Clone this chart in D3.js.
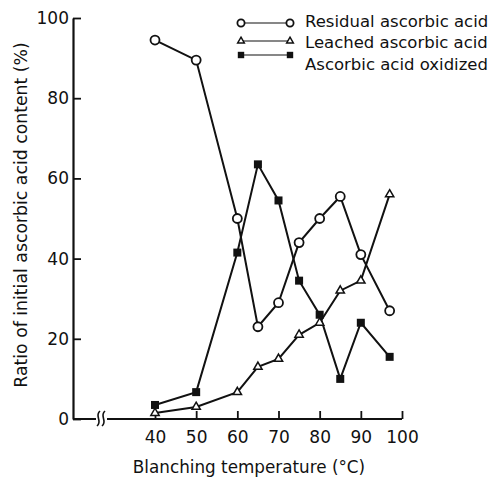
<!DOCTYPE html>
<html>
<head>
<meta charset="utf-8">
<script src="https://d3js.org/d3.v7.min.js"></script>
<style>
  body { margin: 0; background: #fff; }
  text { font-family: "DejaVu Sans", sans-serif; fill: #111; }
</style>
</head>
<body>
<div id="chart-container"></div>
<script>
const temperatures = [40, 50, 60, 65, 70, 75, 80, 85, 90, 97];
const residual = [94.5, 89.5, 50, 23, 29, 44, 50, 55.5, 41, 27];
const leached = [1.5, 3, 6.7, 13, 15, 21, 24, 32, 34.5, 56];
const oxidized = [3.5, 6.7, 41.5, 63.5, 54.5, 34.5, 26, 10, 24, 15.5];
const xTicks = [40, 50, 60, 70, 80, 90, 100];
const yTicks = [0, 20, 40, 60, 80, 100];
const seriesNames = ["Residual ascorbic acid", "Leached ascorbic acid", "Ascorbic acid oxidized"];

function makeChart() {
    const width = 492, height = 478;
    const axisLeft = 73, axisBottom = 419;

    const svg = d3.select("#chart-container")
        .append("svg")
        .attr("width", width)
        .attr("height", height);

    svg.append("rect").attr("width", width).attr("height", height).attr("fill", "#fff");

    const x = d3.scaleLinear().domain([40, 100]).range([155, 402]);
    const y = d3.scaleLinear().domain([0, 100]).range([axisBottom, 18]);

    // y axis
    const yAxis = svg.append("g")
        .attr("transform", "translate(" + axisLeft + ",0)")
        .call(d3.axisLeft(y).tickValues(yTicks).tickSizeInner(-8).tickSizeOuter(0).tickPadding(6));
    yAxis.select(".domain").attr("stroke", "#111").attr("stroke-width", 2.2);
    yAxis.selectAll(".tick line").attr("stroke", "#111").attr("stroke-width", 1.8);
    yAxis.selectAll(".tick text").style("font-size", "17px").attr("dx", "2px");

    // x axis (drawn from 40 to 100, with a broken stub back to the origin)
    const xAxis = svg.append("g")
        .attr("transform", "translate(0," + axisBottom + ")")
        .call(d3.axisBottom(x).tickValues(xTicks).tickSizeInner(-8).tickSizeOuter(0).tickPadding(12));
    xAxis.select(".domain").remove();
    xAxis.selectAll(".tick line").attr("stroke", "#111").attr("stroke-width", 1.8);
    xAxis.selectAll(".tick text").style("font-size", "17px");

    svg.append("line")
        .attr("x1", axisLeft).attr("x2", 96)
        .attr("y1", axisBottom).attr("y2", axisBottom)
        .attr("stroke", "#111").attr("stroke-width", 2);
    svg.append("line")
        .attr("x1", 107).attr("x2", x(100))
        .attr("y1", axisBottom).attr("y2", axisBottom)
        .attr("stroke", "#111").attr("stroke-width", 2);
    // break marks
    [97, 102].forEach(bx => {
        svg.append("path")
            .attr("d", `M${bx + 3},${axisBottom - 8} C${bx - 3},${axisBottom - 3} ${bx + 6},${axisBottom + 2} ${bx},${axisBottom + 7}`)
            .attr("fill", "none").attr("stroke", "#111").attr("stroke-width", 1.6);
    });

    // axis labels
    svg.append("text")
        .attr("x", 249).attr("y", 473)
        .style("text-anchor", "middle")
        .style("font-size", "16.8px")
        .text("Blanching temperature (°C)");

    svg.append("text")
        .attr("transform", "rotate(-90)")
        .attr("x", -215).attr("y", 27)
        .style("text-anchor", "middle")
        .style("font-size", "17.3px")
        .text("Ratio of initial ascorbic acid content (%)");

    const line = d3.line()
        .x((d, i) => x(temperatures[i]))
        .y(d => y(d));

    const series = [residual, leached, oxidized];
    series.forEach(s => {
        svg.append("path")
            .datum(s)
            .attr("d", line)
            .attr("fill", "none")
            .attr("stroke", "#111")
            .attr("stroke-width", 2);
    });

    function drawMarker(g, kind, cx, cy, scale) {
        if (kind === 0) {
            g.append("circle").attr("cx", cx).attr("cy", cy).attr("r", 4.5 * scale)
                .attr("fill", "#fff").attr("stroke", "#111").attr("stroke-width", 1.8);
        } else if (kind === 1) {
            g.append("path").attr("d", d3.symbol().type(d3.symbolTriangle).size(30 * scale * scale)())
                .attr("transform", "translate(" + cx + "," + cy + ")")
                .attr("fill", "#fff").attr("stroke", "#111").attr("stroke-width", 1.5);
        } else {
            const s = 8 * scale;
            g.append("rect").attr("x", cx - s / 2).attr("y", cy - s / 2).attr("width", s).attr("height", s)
                .attr("fill", "#111");
        }
    }

    const marks = svg.append("g");
    series.forEach((s, k) => {
        s.forEach((v, i) => drawMarker(marks, k, x(temperatures[i]), y(v), 1));
    });

    // legend
    const legendMarkY = [23, 41, 55];
    const legendTextY = [27, 48, 70];
    const legend = svg.append("g");
    seriesNames.forEach((name, k) => {
        legend.append("line")
            .attr("x1", 241).attr("x2", 290)
            .attr("y1", legendMarkY[k]).attr("y2", legendMarkY[k])
            .attr("stroke", "#111").attr("stroke-width", 1.2);
        drawMarker(legend, k, 241, legendMarkY[k], 0.8);
        drawMarker(legend, k, 290, legendMarkY[k], 0.8);
        legend.append("text")
            .attr("x", 305).attr("y", legendTextY[k])
            .style("font-size", "16.5px")
            .text(name);
    });
}
makeChart();
</script>
</body>
</html>
